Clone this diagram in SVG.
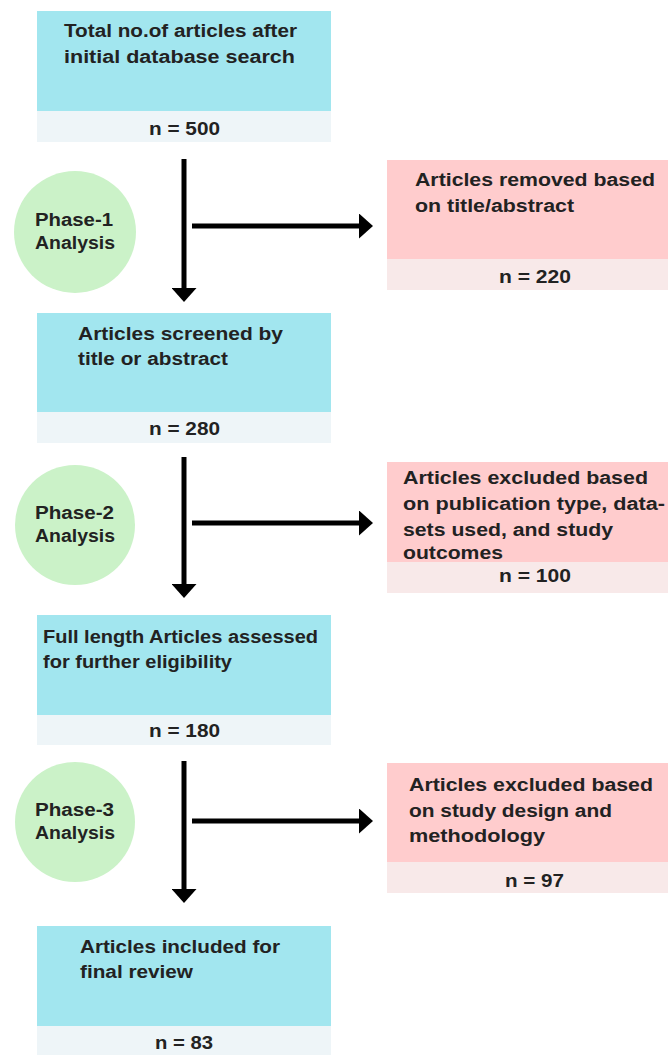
<svg xmlns="http://www.w3.org/2000/svg" width="668" height="1055" viewBox="0 0 668 1055">
<style>
.t{font-family:"Liberation Sans",Arial,sans-serif;font-weight:bold;font-size:18px;fill:#222}
.c{text-anchor:middle}
.bt{fill:#A2E6EF}
.bb{fill:#EEF5F8}
.pt{fill:#FFCCCD}
.pb{fill:#F8E9E9}
.ph{fill:#CBF2C8}
.ln{stroke:#000;stroke-width:5;fill:none}
</style>
<defs>
<marker id="ah" markerWidth="2.8" markerHeight="5" refX="0" refY="2.5" orient="auto" markerUnits="strokeWidth" viewBox="0 0 2.8 5">
<path d="M0,0 L2.8,2.5 L0,5 Z" fill="#000"/>
</marker>
</defs>
<rect width="668" height="1055" fill="#fff"/>
<g id="connectors">
<line class="ln" x1="184" y1="159" x2="184" y2="288" marker-end="url(#ah)"/>
<line class="ln" x1="192" y1="226" x2="359" y2="226" marker-end="url(#ah)"/>
<line class="ln" x1="184" y1="457" x2="184" y2="584" marker-end="url(#ah)"/>
<line class="ln" x1="192" y1="523" x2="359" y2="523" marker-end="url(#ah)"/>
<line class="ln" x1="184" y1="761" x2="184" y2="889" marker-end="url(#ah)"/>
<line class="ln" x1="192" y1="821" x2="359" y2="821" marker-end="url(#ah)"/>
</g>
<g id="box1">
<rect class="bt" x="37" y="11" width="294" height="100"/>
<rect class="bb" x="37" y="111" width="294" height="31"/>
<text class="t" x="64" y="37" textLength="233" lengthAdjust="spacingAndGlyphs">Total no.of articles after</text>
<text class="t" x="64" y="63" textLength="231" lengthAdjust="spacingAndGlyphs">initial database search</text>
<text class="t" x="149" y="135" textLength="71" lengthAdjust="spacingAndGlyphs">n = 500</text>
</g>
<g id="phase1">
<circle class="ph" cx="75" cy="232" r="61"/>
<text class="t" x="35" y="226" textLength="78" lengthAdjust="spacingAndGlyphs">Phase-1</text>
<text class="t" x="35" y="249" textLength="80" lengthAdjust="spacingAndGlyphs">Analysis</text>
</g>
<g id="removed1">
<rect class="pt" x="387" y="160" width="281" height="99"/>
<rect class="pb" x="387" y="259" width="281" height="31"/>
<text class="t" x="415" y="186" textLength="240" lengthAdjust="spacingAndGlyphs">Articles removed based</text>
<text class="t" x="415" y="212" textLength="159" lengthAdjust="spacingAndGlyphs">on title/abstract</text>
<text class="t" x="499" y="283" textLength="72" lengthAdjust="spacingAndGlyphs">n = 220</text>
</g>
<g id="box2">
<rect class="bt" x="37" y="313" width="294" height="99"/>
<rect class="bb" x="37" y="412" width="294" height="31"/>
<text class="t" x="78" y="340" textLength="205" lengthAdjust="spacingAndGlyphs">Articles screened by</text>
<text class="t" x="78" y="365" textLength="150" lengthAdjust="spacingAndGlyphs">title or abstract</text>
<text class="t" x="149" y="435" textLength="71" lengthAdjust="spacingAndGlyphs">n = 280</text>
</g>
<g id="phase2">
<circle class="ph" cx="75" cy="525" r="60"/>
<text class="t" x="35" y="519" textLength="79" lengthAdjust="spacingAndGlyphs">Phase-2</text>
<text class="t" x="35" y="542" textLength="80" lengthAdjust="spacingAndGlyphs">Analysis</text>
</g>
<g id="excluded2">
<rect class="pt" x="387" y="462" width="281" height="100"/>
<rect class="pb" x="387" y="562" width="281" height="31"/>
<text class="t" x="403" y="484" textLength="245" lengthAdjust="spacingAndGlyphs">Articles excluded based</text>
<text class="t" x="403" y="510" textLength="262" lengthAdjust="spacingAndGlyphs">on publication type, data-</text>
<text class="t" x="403" y="536" textLength="210" lengthAdjust="spacingAndGlyphs">sets used, and study</text>
<text class="t" x="403" y="559" textLength="100" lengthAdjust="spacingAndGlyphs">outcomes</text>
<text class="t" x="499" y="582" textLength="72" lengthAdjust="spacingAndGlyphs">n = 100</text>
</g>
<g id="box3">
<rect class="bt" x="37" y="615" width="294" height="100"/>
<rect class="bb" x="37" y="715" width="294" height="30"/>
<text class="t" x="43" y="643" textLength="275" lengthAdjust="spacingAndGlyphs">Full length Articles assessed</text>
<text class="t" x="43" y="668" textLength="189" lengthAdjust="spacingAndGlyphs">for further eligibility</text>
<text class="t" x="149" y="737" textLength="71" lengthAdjust="spacingAndGlyphs">n = 180</text>
</g>
<g id="phase3">
<circle class="ph" cx="75" cy="822" r="60"/>
<text class="t" x="35" y="816" textLength="79" lengthAdjust="spacingAndGlyphs">Phase-3</text>
<text class="t" x="35" y="839" textLength="80" lengthAdjust="spacingAndGlyphs">Analysis</text>
</g>
<g id="excluded3">
<rect class="pt" x="387" y="763" width="281" height="99"/>
<rect class="pb" x="387" y="862" width="281" height="31"/>
<text class="t" x="409" y="791" textLength="244" lengthAdjust="spacingAndGlyphs">Articles excluded based</text>
<text class="t" x="409" y="817" textLength="203" lengthAdjust="spacingAndGlyphs">on study design and</text>
<text class="t" x="409" y="842" textLength="136" lengthAdjust="spacingAndGlyphs">methodology</text>
<text class="t" x="505" y="887" textLength="59" lengthAdjust="spacingAndGlyphs">n = 97</text>
</g>
<g id="box4">
<rect class="bt" x="37" y="926" width="294" height="100"/>
<rect class="bb" x="37" y="1026" width="294" height="29"/>
<text class="t" x="80" y="953" textLength="200" lengthAdjust="spacingAndGlyphs">Articles included for</text>
<text class="t" x="80" y="978" textLength="113" lengthAdjust="spacingAndGlyphs">final review</text>
<text class="t" x="155" y="1049" textLength="58" lengthAdjust="spacingAndGlyphs">n = 83</text>
</g>
</svg>
